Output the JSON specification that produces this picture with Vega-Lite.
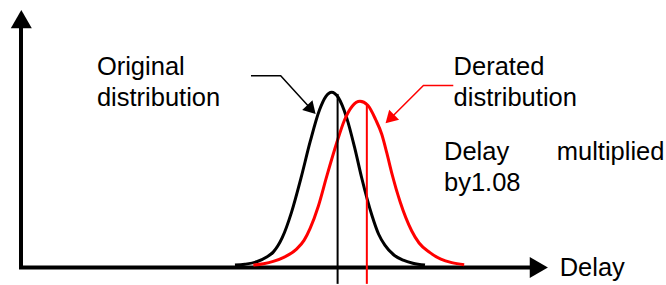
{
  "$schema": "https://vega.github.io/schema/vega-lite/v6.json",
  "width": 666,
  "height": 285,
  "autosize": {"type": "fit", "contains": "padding"},
  "padding": 0,
  "background": "#ffffff",
  "config": {"view": {"stroke": null}},
  "datasets": {
    "curves": [
      {"series": "Original", "x": 68.8, "y": 0.014},
      {"series": "Original", "x": 72, "y": 0.019},
      {"series": "Original", "x": 75.8, "y": 0.033},
      {"series": "Original", "x": 79, "y": 0.06},
      {"series": "Original", "x": 81.1, "y": 0.088},
      {"series": "Original", "x": 84, "y": 0.17},
      {"series": "Original", "x": 87, "y": 0.316},
      {"series": "Original", "x": 90, "y": 0.508},
      {"series": "Original", "x": 93, "y": 0.719},
      {"series": "Original", "x": 96, "y": 0.9},
      {"series": "Original", "x": 98, "y": 0.975},
      {"series": "Original", "x": 99.9, "y": 1.0},
      {"series": "Original", "x": 102, "y": 0.97},
      {"series": "Original", "x": 104.7, "y": 0.855},
      {"series": "Original", "x": 107.4, "y": 0.675},
      {"series": "Original", "x": 109.5, "y": 0.515},
      {"series": "Original", "x": 112.8, "y": 0.3},
      {"series": "Original", "x": 115, "y": 0.19},
      {"series": "Original", "x": 117, "y": 0.128},
      {"series": "Original", "x": 120, "y": 0.07},
      {"series": "Original", "x": 122.9, "y": 0.042},
      {"series": "Original", "x": 126, "y": 0.025},
      {"series": "Original", "x": 129.9, "y": 0.014},
      {"series": "Derated", "x": 74.7, "y": 0.014},
      {"series": "Derated", "x": 78, "y": 0.022},
      {"series": "Derated", "x": 81.1, "y": 0.035},
      {"series": "Derated", "x": 84.5, "y": 0.058},
      {"series": "Derated", "x": 88.6, "y": 0.105},
      {"series": "Derated", "x": 91, "y": 0.155},
      {"series": "Derated", "x": 93, "y": 0.225},
      {"series": "Derated", "x": 95.6, "y": 0.35},
      {"series": "Derated", "x": 98.3, "y": 0.52},
      {"series": "Derated", "x": 101.5, "y": 0.71},
      {"series": "Derated", "x": 104, "y": 0.84},
      {"series": "Derated", "x": 106.5, "y": 0.92},
      {"series": "Derated", "x": 109, "y": 0.948},
      {"series": "Derated", "x": 111.5, "y": 0.925},
      {"series": "Derated", "x": 114, "y": 0.845},
      {"series": "Derated", "x": 116, "y": 0.76},
      {"series": "Derated", "x": 117.6, "y": 0.655},
      {"series": "Derated", "x": 119.2, "y": 0.54},
      {"series": "Derated", "x": 121.9, "y": 0.375},
      {"series": "Derated", "x": 125.6, "y": 0.21},
      {"series": "Derated", "x": 128, "y": 0.14},
      {"series": "Derated", "x": 131.5, "y": 0.085},
      {"series": "Derated", "x": 135, "y": 0.048},
      {"series": "Derated", "x": 138.5, "y": 0.028},
      {"series": "Derated", "x": 142.5, "y": 0.016}
    ],
    "markers": [
      {"series": "Original", "x": 101.8, "y": -0.093, "y2": 0.99},
      {"series": "Derated", "x": 111.2, "y": -0.093, "y2": 0.925}
    ],
    "axes": [
      {"axis": "vertical", "x": 0, "x2": 0, "y": -0.0085, "y2": 1.37},
      {"axis": "horizontal", "x": -0.64, "x2": 164, "y": 0, "y2": 0}
    ],
    "pointers": [
      {"series": "Original", "x": 73.95, "y": 1.094},
      {"series": "Original", "x": 83.5, "y": 1.094},
      {"series": "Original", "x": 93.4, "y": 0.901},
      {"series": "Derated", "x": 118.6, "y": 0.847},
      {"series": "Derated", "x": 129.4, "y": 1.0386},
      {"series": "Derated", "x": 139.0, "y": 1.0386}
    ],
    "heads": [
      {"head": "yaxis", "x": 0.1, "y": 1.4165},
      {"head": "xaxis", "x": 166.5, "y": 0},
      {"head": "Original", "x": 93.4, "y": 0.901},
      {"head": "Derated", "x": 118.6, "y": 0.847}
    ],
    "labels": [
      {"label": "Original", "x": 24.4, "y": 1.0994, "anchor": "left"},
      {"label": "distribution", "x": 24.4, "y": 0.9193, "anchor": "left"},
      {"label": "Derated", "x": 139.1, "y": 1.0994, "anchor": "left"},
      {"label": "distribution", "x": 139.1, "y": 0.9193, "anchor": "left"},
      {"label": "Delay", "x": 136.0, "y": 0.6125, "anchor": "left"},
      {"label": "multiplied", "x": 206.9, "y": 0.6125, "anchor": "right"},
      {"label": "by1.08", "x": 136.0, "y": 0.4364, "anchor": "left"},
      {"label": "Delay", "x": 173.2, "y": -0.05, "anchor": "left"}
    ]
  },
  "encoding": {
    "x": {"field": "x", "type": "quantitative", "scale": {"domain": [-6.752, 207.395], "nice": false, "zero": false}, "axis": null},
    "y": {"field": "y", "type": "quantitative", "scale": {"domain": [-0.09375, 1.52557], "nice": false, "zero": false}, "axis": null}
  },
  "layer": [
    {
      "data": {"name": "axes"},
      "mark": {"type": "rule", "color": "#000000", "strokeWidth": 4},
      "encoding": {"x2": {"field": "x2"}, "y2": {"field": "y2"}}
    },
    {
      "data": {"name": "curves"},
      "transform": [{"filter": "datum.series === 'Original'"}],
      "mark": {"type": "line", "color": "#000000", "strokeWidth": 3, "interpolate": "monotone"},
      "encoding": {}
    },
    {
      "data": {"name": "curves"},
      "transform": [{"filter": "datum.series === 'Derated'"}],
      "mark": {"type": "line", "color": "#ff0000", "strokeWidth": 3, "interpolate": "monotone"},
      "encoding": {}
    },
    {
      "data": {"name": "markers"},
      "transform": [{"filter": "datum.series === 'Original'"}],
      "mark": {"type": "rule", "color": "#000000", "strokeWidth": 2},
      "encoding": {"y2": {"field": "y2"}}
    },
    {
      "data": {"name": "markers"},
      "transform": [{"filter": "datum.series === 'Derated'"}],
      "mark": {"type": "rule", "color": "#ff0000", "strokeWidth": 2},
      "encoding": {"y2": {"field": "y2"}}
    },
    {
      "data": {"name": "pointers"},
      "transform": [{"filter": "datum.series === 'Original'"}],
      "mark": {"type": "line", "color": "#000000", "strokeWidth": 1.5},
      "encoding": {}
    },
    {
      "data": {"name": "pointers"},
      "transform": [{"filter": "datum.series === 'Derated'"}],
      "mark": {"type": "line", "color": "#ff0000", "strokeWidth": 1.5},
      "encoding": {}
    },
    {
      "data": {"name": "heads"},
      "transform": [{"filter": "datum.head === 'yaxis'"}],
      "mark": {"type": "point", "shape": "triangle-up", "size": 441, "filled": true, "opacity": 1, "color": "#000000", "strokeWidth": 0},
      "encoding": {}
    },
    {
      "data": {"name": "heads"},
      "transform": [{"filter": "datum.head === 'xaxis'"}],
      "mark": {"type": "point", "shape": "triangle-right", "size": 441, "filled": true, "opacity": 1, "color": "#000000", "strokeWidth": 0},
      "encoding": {}
    },
    {
      "data": {"name": "heads"},
      "transform": [{"filter": "datum.head === 'Original'"}],
      "mark": {"type": "point", "shape": "triangle-up", "size": 196, "angle": 137, "filled": true, "opacity": 1, "color": "#000000", "strokeWidth": 0},
      "encoding": {}
    },
    {
      "data": {"name": "heads"},
      "transform": [{"filter": "datum.head === 'Derated'"}],
      "mark": {"type": "point", "shape": "triangle-up", "size": 196, "angle": 225, "filled": true, "opacity": 1, "color": "#ff0000", "strokeWidth": 0},
      "encoding": {}
    },
    {
      "data": {"name": "labels"},
      "transform": [{"filter": "datum.anchor === 'left'"}],
      "mark": {"type": "text", "align": "left", "baseline": "alphabetic", "font": "Liberation Sans", "fontSize": 25.5, "color": "#000000"},
      "encoding": {"text": {"field": "label"}}
    },
    {
      "data": {"name": "labels"},
      "transform": [{"filter": "datum.anchor === 'right'"}],
      "mark": {"type": "text", "align": "right", "baseline": "alphabetic", "font": "Liberation Sans", "fontSize": 25.5, "color": "#000000"},
      "encoding": {"text": {"field": "label"}}
    }
  ]
}
